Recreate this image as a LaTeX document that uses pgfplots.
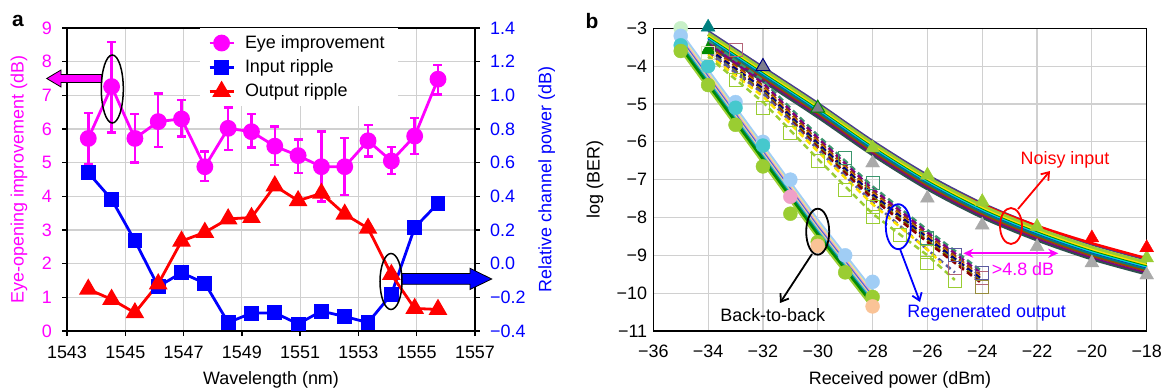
\documentclass[border=0pt]{standalone}
\usepackage{pgfplots}
\pgfplotsset{compat=1.18}
\usepackage{pgfplotstable}
\usepackage{fontspec}
\setmainfont{Liberation Sans}
\usetikzlibrary{arrows.meta}

\definecolor{mag}{RGB}{255,0,255}
\definecolor{bl}{RGB}{0,0,255}
\definecolor{rd}{RGB}{255,0,0}
\definecolor{gridc}{RGB}{208,208,208}
\definecolor{lblue}{RGB}{160,205,245}
\definecolor{cyn}{RGB}{70,200,205}
\definecolor{ygreen}{RGB}{154,205,50}
\definecolor{pnk}{RGB}{240,160,200}
\definecolor{peach}{RGB}{250,195,150}
\definecolor{pgreen}{RGB}{200,240,200}
\definecolor{lyel}{RGB}{245,235,140}
\definecolor{rblue}{RGB}{65,105,225}
\definecolor{teal2}{RGB}{0,128,128}
\definecolor{grn}{RGB}{0,140,0}
\definecolor{gry}{RGB}{170,170,170}
\definecolor{dslate}{RGB}{72,61,139}
\definecolor{dsg}{RGB}{47,79,79}
\definecolor{brn}{RGB}{150,75,0}
\definecolor{prp}{RGB}{128,0,128}
\definecolor{sgreen}{RGB}{60,150,110}
\definecolor{org}{RGB}{255,140,0}
\definecolor{nvy}{RGB}{0,0,128}
\definecolor{olv}{RGB}{128,128,0}
\definecolor{dred}{RGB}{139,0,0}
\definecolor{slt}{RGB}{90,90,160}
\definecolor{yel}{RGB}{255,225,0}
\definecolor{bpink}{RGB}{180,100,120}
\definecolor{pale}{RGB}{215,228,185}
\definecolor{olv2}{RGB}{150,140,60}
\definecolor{cyan2}{RGB}{0,215,215}
\definecolor{trigray}{RGB}{125,125,140}

\pgfplotstableread{
x y ep em
1543.73 5.72 0.75 0.76
1544.53 7.26 1.33 1.36
1545.33 5.72 0.72 0.72
1546.13 6.22 0.83 0.76
1546.93 6.30 0.56 0.53
1547.73 4.88 0.45 0.43
1548.53 6.02 0.62 0.64
1549.33 5.92 0.52 0.47
1550.13 5.49 0.58 0.56
1550.93 5.21 0.48 0.51
1551.73 4.88 1.04 1.04
1552.53 4.88 0.86 0.84
1553.33 5.65 0.47 0.47
1554.13 5.05 0.42 0.39
1554.93 5.79 0.53 0.53
1555.73 7.48 0.42 0.45
}\eyetab

\pgfplotstableread{
x y
1543.73 0.540
1544.53 0.382
1545.33 0.136
1546.13 -0.136
1546.93 -0.054
1547.73 -0.116
1548.53 -0.350
1549.33 -0.294
1550.13 -0.292
1550.93 -0.358
1551.73 -0.282
1552.53 -0.314
1553.33 -0.350
1554.13 -0.182
1554.93 0.214
1555.73 0.358
}\inrip

\pgfplotstableread{
x y
1543.73 -0.152
1544.53 -0.212
1545.33 -0.292
1546.13 -0.120
1546.93 0.134
1547.73 0.186
1548.53 0.266
1549.33 0.274
1550.13 0.462
1550.93 0.374
1551.73 0.418
1552.53 0.294
1553.33 0.210
1554.13 -0.064
1554.93 -0.266
1555.73 -0.272
}\outrip

\pgfplotsset{
  myaxis/.style={
    scale only axis, anchor=south west,
    axis line style={black, line width=1.5bp},
    tick style={black, line width=1.5bp},
    grid style={gridc, line width=1.2bp},
  },
  bb/.style={no markers, line width=2.2bp},
  nz/.style={no markers, line width=2.5bp, smooth},
  rg/.style={no markers, line width=2.5bp, dash pattern=on 6bp off 4bp},
  bbm/.style={only marks, mark=*, mark size=7bp},
  nzm/.style={only marks, mark=triangle*, mark size=8bp},
  rgm/.style={only marks, mark=square, mark size=6.5bp, mark options={line width=1bp}},
}

\begin{document}
\fontsize{18}{21.5}\selectfont
\begin{tikzpicture}
\useasboundingbox (0,0) rectangle (1163bp,388bp);

% ---------------- panel a, left axis ----------------
\begin{axis}[myaxis, at={(67bp,57bp)}, width=408bp, height=303bp,
  xmin=1543, xmax=1557, ymin=0, ymax=9,
  xtick={1543,1545,1547,1549,1551,1553,1555,1557},
  xticklabels={1543,1545,1547,1549,1551,1553,1555,1557},
  ytick={0,1,2,3,4,5,6,7,8,9}, yticklabels={0,1,2,3,4,5,6,7,8,9},
  xtick pos=bottom, ytick pos=left, tick align=outside, major tick length=5bp,
  grid=major,
  yticklabel style={mag, xshift=-4bp},
  xticklabel style={yshift=-4bp},
  ylabel={Eye-opening improvement (dB)},
  ylabel style={mag, at={(axis description cs:-0.1176,0.5)}, anchor=center},
  xlabel={Wavelength (nm)},
  xlabel style={at={(axis description cs:0.5,-0.162)}, anchor=center},
  legend style={at={(axis description cs:0.326,1)}, anchor=north west, draw=none,
    fill=white, inner xsep=8bp, inner ysep=5bp, row sep=4.5bp,
    nodes={inner xsep=5bp},
    /tikz/every odd column/.append style={column sep=5bp}},
  legend cell align=left,
  legend image code/.code={\draw[mark repeat=2,mark phase=2] plot coordinates {(0bp,0bp) (12bp,0bp) (24bp,0bp)};},
]
\addplot[mag, line width=2.8bp, mark=*, mark size=7bp, mark options={solid, fill=mag},
  error bars/.cd, y dir=both, y explicit,
  error bar style={line width=2.5bp, mag},
  error mark options={rotate=90, mag, line width=2.5bp, mark size=4.5bp}]
  table[x=x, y=y, y error plus=ep, y error minus=em] {\eyetab};
\addlegendentry{Eye improvement}
\addlegendimage{bl, line width=2.8bp, mark=square*, mark size=6bp}
\addlegendentry{Input ripple}
\addlegendimage{rd, line width=2.8bp, mark=triangle*, mark size=8bp}
\addlegendentry{Output ripple}
\end{axis}

% ---------------- panel a, right axis ----------------
\begin{axis}[myaxis, at={(67bp,57bp)}, width=408bp, height=303bp,
  xmin=1543, xmax=1557, ymin=-0.4, ymax=1.4,
  axis x line=none, axis y line*=right,
  ytick={-0.4,-0.2,0,0.2,0.4,0.6,0.8,1.0,1.2,1.4},
  yticklabels={−0.4,−0.2,0.0,0.2,0.4,0.6,0.8,1.0,1.2,1.4},
  tick align=outside, major tick length=5bp,
  yticklabel style={bl, xshift=4bp},
  ylabel={Relative channel power (dB)},
  ylabel style={bl, at={(axis description cs:1.176,0.5)}, anchor=center},
]
\addplot[bl, line width=2.8bp, mark=square*, mark size=6bp] table[x=x,y=y] {\inrip};
\addplot[rd, line width=2.8bp, mark=triangle*, mark size=8bp] table[x=x,y=y] {\outrip};
\end{axis}

% ---------------- panel b ----------------
\begin{axis}[myaxis, at={(653.3bp,57bp)}, width=493.4bp, height=302.7bp,
  xmin=-36, xmax=-18, ymin=-11, ymax=-3,
  xtick={-36,-34,-32,-30,-28,-26,-24,-22,-20,-18},
  xticklabels={−36,−34,−32,−30,−28,−26,−24,−22,−20,−18},
  ytick={-11,-10,-9,-8,-7,-6,-5,-4,-3},
  yticklabels={−11,−10,−9,−8,−7,−6,−5,−4,−3},
  major tick length=0bp, grid=major, clip=false,
  xticklabel style={yshift=-8bp},
  xlabel={Received power (dBm)},
  xlabel style={at={(axis description cs:0.5,-0.162)}, anchor=center},
  ylabel={log (BER)},
  ylabel style={at={(axis description cs:-0.118,0.5)}, anchor=center},
]
% back-to-back markers
\addplot[bbm, pgreen] coordinates {(-35,-3.0)};
\addplot[bbm, lblue] coordinates {(-35,-3.2) (-33,-4.95) (-32,-6.0) (-31,-7.0) (-29,-9.0) (-28,-9.7)};
\addplot[bbm, cyn] coordinates {(-35,-3.45) (-34,-4.0) (-33,-5.1) (-32,-6.1)};
\addplot[bbm, ygreen] coordinates {(-35,-3.6) (-34,-4.5) (-33,-5.55) (-32,-6.65) (-31,-7.9) (-30,-8.65) (-29,-9.45) (-28,-10.1)};
\addplot[bbm, pnk] coordinates {(-31,-7.45)};
\addplot[bbm, peach] coordinates {(-30,-8.75) (-28,-10.35)};
% back-to-back lines
\addplot[bb, ygreen, line width=4bp] coordinates {(-35,-3.55) (-30,-8.50) (-28,-10.35)};
\addplot[bb, lblue, line width=4bp] coordinates {(-35,-3.15) (-30,-8.10) (-28,-9.95)};
\addplot[bb, lyel] coordinates {(-35,-3.20) (-30,-8.15) (-28,-10.00)};
\addplot[bb, pnk] coordinates {(-35,-3.25) (-30,-8.20) (-28,-10.05)};
\addplot[bb, rblue] coordinates {(-35,-3.30) (-30,-8.25) (-28,-10.10)};
\addplot[bb, peach] coordinates {(-35,-3.35) (-30,-8.30) (-28,-10.15)};
\addplot[bb, cyn] coordinates {(-35,-3.40) (-30,-8.35) (-28,-10.20)};
\addplot[bb, teal2] coordinates {(-35,-3.45) (-30,-8.40) (-28,-10.25)};
\addplot[bb, grn] coordinates {(-35,-3.50) (-30,-8.45) (-28,-10.30)};

% noisy input markers
\addplot[nzm, gry] coordinates {(-28,-6.56) (-26,-7.49) (-24,-8.2) (-22,-8.77) (-20,-9.2) (-18,-9.52)};
\addplot[nzm, ygreen] coordinates {(-28,-6.16) (-26,-6.88) (-24,-7.58) (-22,-8.24) (-18,-9.07)};
\addplot[nzm, rd] coordinates {(-20,-8.54) (-18,-8.8)};
\addplot[nzm, teal2] coordinates {(-34,-2.97)};
\addplot[nzm, grn] coordinates {(-34,-3.57)};
\addplot[nzm, trigray, mark options={draw=nvy, line width=1bp}] coordinates {(-32,-4.01)};
\addplot[nzm, trigray, mark options={draw=grn, line width=1bp}] coordinates {(-30,-5.11)};
% noisy input lines
\addplot[nz, gry, line width=8bp] coordinates {(-34,-3.33) (-32,-4.28) (-30,-5.23) (-28,-6.23) (-26,-7.13) (-24,-7.88) (-22,-8.48) (-20,-8.98) (-18,-9.38)};
\addplot[nz, dslate, line width=2bp] coordinates {(-34,-3.07) (-32,-4.02) (-30,-4.97) (-28,-5.97) (-26,-6.87) (-24,-7.62) (-22,-8.22) (-20,-8.72) (-18,-9.12)};
\addplot[nz, rd] coordinates {(-34,-3.17) (-32,-4.12) (-30,-5.07) (-28,-6.07) (-26,-6.95) (-24,-7.66) (-22,-8.22) (-20,-8.68) (-18,-9.08)};
\addplot[nz, ygreen, line width=4bp] coordinates {(-34,-3.15) (-32,-4.10) (-30,-5.05) (-28,-6.05) (-26,-6.95) (-24,-7.70) (-22,-8.30) (-20,-8.80) (-18,-9.20)};
\addplot[nz, yel] coordinates {(-34,-3.21) (-32,-4.16) (-30,-5.11) (-28,-6.11) (-26,-7.01) (-24,-7.76) (-22,-8.36) (-20,-8.86) (-18,-9.26)};
\addplot[nz, grn] coordinates {(-34,-3.25) (-32,-4.20) (-30,-5.15) (-28,-6.15) (-26,-7.05) (-24,-7.80) (-22,-8.40) (-20,-8.90) (-18,-9.30)};
\addplot[nz, cyan2, line width=2bp] coordinates {(-34,-3.27) (-32,-4.22) (-30,-5.17) (-28,-6.17) (-26,-7.07) (-24,-7.82) (-22,-8.42) (-20,-8.92) (-18,-9.32)};
\addplot[nz, bl, line width=1.5bp] coordinates {(-34,-3.30) (-32,-4.25) (-30,-5.20) (-28,-6.20) (-26,-7.10) (-24,-7.85) (-22,-8.45) (-20,-8.95) (-18,-9.35)};
\addplot[nz, teal2, line width=3bp] coordinates {(-34,-3.33) (-32,-4.28) (-30,-5.23) (-28,-6.23) (-26,-7.13) (-24,-7.88) (-22,-8.48) (-20,-8.98) (-18,-9.38)};
\addplot[nz, brn, line width=2bp] coordinates {(-34,-3.37) (-32,-4.32) (-30,-5.27) (-28,-6.27) (-26,-7.17) (-24,-7.92) (-22,-8.52) (-20,-9.02) (-18,-9.42)};
\addplot[nz, prp, line width=2bp] coordinates {(-34,-3.42) (-32,-4.37) (-30,-5.32) (-28,-6.32) (-26,-7.22) (-24,-7.97) (-22,-8.57) (-20,-9.07) (-18,-9.47)};
\addplot[nz, dsg, line width=2bp] coordinates {(-34,-3.46) (-32,-4.41) (-30,-5.36) (-28,-6.36) (-26,-7.26) (-24,-8.01) (-22,-8.61) (-20,-9.11) (-18,-9.51)};

% regenerated output markers
\addplot[rgm, pale] coordinates {(-34,-3.66)};
\addplot[rgm, ygreen] coordinates {(-33,-4.37) (-32,-5.1) (-31,-5.77) (-30,-6.5) (-29,-7.27) (-28,-7.71) (-28,-8.0) (-27,-8.46) (-26,-8.9) (-26,-9.2) (-25,-9.68)};
\addplot[rgm, sgreen] coordinates {(-29,-6.43) (-28,-7.1) (-26,-8.55)};
\addplot[rgm, bpink] coordinates {(-33,-3.57) (-25,-9.34) (-24,-9.6)};
\addplot[rgm, slt] coordinates {(-25,-9.0) (-24,-9.47)};
\addplot[rgm, olv2] coordinates {(-24,-9.85)};
% regenerated output lines
\addplot[rg, sgreen] coordinates {(-34,-3.33) (-32,-4.38) (-30,-5.83) (-28,-7.18) (-26,-8.33) (-24,-9.43)};
\addplot[rg, prp] coordinates {(-34,-3.40) (-32,-4.45) (-30,-5.90) (-28,-7.25) (-26,-8.40) (-24,-9.50)};
\addplot[rg, brn] coordinates {(-34,-3.47) (-32,-4.52) (-30,-5.97) (-28,-7.32) (-26,-8.47) (-24,-9.57)};
\addplot[rg, org] coordinates {(-34,-3.52) (-32,-4.57) (-30,-6.02) (-28,-7.37) (-26,-8.52) (-24,-9.62)};
\addplot[rg, nvy, line width=3bp] coordinates {(-34,-3.55) (-32,-4.60) (-30,-6.05) (-28,-7.40) (-26,-8.55) (-24,-9.65)};
\addplot[rg, olv] coordinates {(-34,-3.61) (-32,-4.66) (-30,-6.11) (-28,-7.46) (-26,-8.61) (-24,-9.71)};
\addplot[rg, dred] coordinates {(-34,-3.65) (-32,-4.70) (-30,-6.15) (-28,-7.50) (-26,-8.65) (-24,-9.75)};
\addplot[rg, slt] coordinates {(-34,-3.62) (-32,-4.72) (-30,-6.20) (-28,-7.60) (-26,-8.85) (-25,-9.45)};
\addplot[rg, yel] coordinates {(-34,-3.70) (-32,-4.80) (-30,-6.25) (-28,-7.65) (-26,-8.85) (-25.5,-9.20)};
\addplot[rg, ygreen] coordinates {(-34,-3.75) (-32,-4.95) (-30,-6.45) (-28,-7.90) (-26,-9.00) (-25,-9.65)};
\end{axis}

% ---------------- annotations (pixel coordinates) ----------------
\begin{scope}[x=1bp, y=-1bp, shift={(0bp,388bp)}]
  \node[font=\bfseries\fontsize{21}{24}\selectfont] at (18,21) {a};
  \node[font=\bfseries\fontsize{21}{24}\selectfont] at (592,21) {b};
  % panel a
  \filldraw[fill=mag, draw=black, line width=0.8bp]
    (101.7,74.5) -- (61,74.5) -- (61,70) -- (46.7,78.5) -- (61,87) -- (61,82.5) -- (101.7,82.5) -- cycle;
  \draw[black, line width=1.5bp] (112.3,89) ellipse [x radius=11bp, y radius=34bp];
  \filldraw[fill=bl, draw=black, line width=0.8bp]
    (401.7,273.5) -- (470,273.5) -- (470,268.3) -- (491.7,279) -- (470,289.5) -- (470,284.3) -- (401.7,284.3) -- cycle;
  \draw[black, line width=1.5bp] (391,281.5) ellipse [x radius=11bp, y radius=28bp];
  % panel b
  \draw[black, line width=1.8bp] (817.7,231.7) ellipse [x radius=11.5bp, y radius=23bp];
  \draw[black, line width=1.8bp, -{Straight Barb[length=7bp,width=10bp]}] (812,254) -- (780,303);
  \node[black, anchor=center] at (772.7,315) {Back-to-back};
  \draw[bl, line width=1.8bp] (898.3,226.7) ellipse [x radius=12.5bp, y radius=22.5bp];
  \draw[bl, line width=1.8bp, -{Straight Barb[length=7bp,width=10bp]}] (900,249) -- (920,302);
  \node[bl, anchor=center] at (986.7,313.3) {Regenerated output};
  \draw[rd, line width=1.8bp] (1011,226) ellipse [x radius=11bp, y radius=18bp];
  \draw[rd, line width=1.8bp, -{Straight Barb[length=7bp,width=10bp]}] (1018,209) -- (1050,171);
  \node[rd, anchor=center] at (1065,160) {Noisy input};
  \draw[mag, line width=2bp, {Stealth[length=10bp,width=9bp]}-{Stealth[length=10bp,width=9bp]}] (963.3,253.3) -- (1058.3,253.3);
  \node[mag, anchor=center] at (1023,269) {>4.8 dB};
\end{scope}
\end{tikzpicture}
\end{document}
